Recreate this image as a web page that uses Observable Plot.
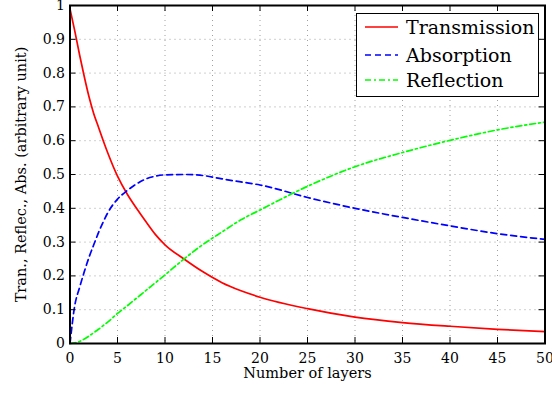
<!DOCTYPE html>
<html><head><meta charset="utf-8">
<script src="https://cdn.jsdelivr.net/npm/d3@7"></script>
<script src="https://cdn.jsdelivr.net/npm/@observablehq/plot@0.6"></script>
<style>
body{margin:0;background:#fff;}
#wrap{position:relative;width:552px;height:394px;}
#legend{position:absolute;left:356px;top:13px;width:181px;height:82px;border:1px solid #000;background:#fff;font-family:"DejaVu Serif";font-size:19px;color:#000;}
.item{position:absolute;left:0;height:24px;display:flex;align-items:center;white-space:nowrap;}
.item svg{margin-left:8px;margin-right:8px;}
</style></head><body><div id="wrap"></div>
<script>
const layers       = [0,    0.5,   1,     1.5,   2,     2.5,   3,     3.5,   4,     5,     6,     7,     8,     9,     10,    12,    14,    16,    18,    20,    25,    30,    35,    40,    45,    50];
const transmission = [0.99, 0.925, 0.855, 0.79,  0.73,  0.68,  0.64,  0.6,   0.562, 0.495, 0.443, 0.4,   0.36,  0.322, 0.292, 0.25,  0.212, 0.18,  0.156, 0.137, 0.103, 0.078, 0.062, 0.051, 0.042, 0.035];
const absorption   = [0,    0.112, 0.165, 0.212, 0.255, 0.292, 0.328, 0.36,  0.388, 0.427, 0.452, 0.472, 0.487, 0.495, 0.499, 0.5,   0.497, 0.487, 0.478, 0.469, 0.432, 0.40,  0.373, 0.348, 0.325, 0.308];
const reflection   = [0,    0.002, 0.006, 0.013, 0.022, 0.032, 0.042, 0.053, 0.064, 0.089, 0.111, 0.134, 0.157, 0.18,  0.203, 0.25,  0.293, 0.33,  0.366, 0.395, 0.465, 0.523, 0.565, 0.601, 0.632, 0.655];

const xTicks = [0, 5, 10, 15, 20, 25, 30, 35, 40, 45, 50];
const yTicks = [0, 0.1, 0.2, 0.3, 0.4, 0.5, 0.6, 0.7, 0.8, 0.9, 1];
const seriesNames  = ["Transmission", "Absorption", "Reflection"];
const seriesColors = ["#ff0000", "#0000ff", "#00ff00"];
const seriesDash   = ["none", "6,4", "6,3,2,3"];
const xLabel = "Number of layers";
const yLabel = "Tran., Reflec., Abs. (arbitrary unit)";

const seriesValues = [transmission, absorption, reflection];
const rows = seriesValues.map(vals => layers.map((x, i) => ({layer: x, value: vals[i]})));

const W = 552, H = 394, mL = 69.5, mR = 7.5, mT = 5, mB = 51;
const innerW = W - mL - mR, innerH = H - mT - mB;
const tickLen = 6;

const chart = Plot.plot({
  width: W, height: H,
  marginLeft: mL, marginRight: mR, marginTop: mT, marginBottom: mB,
  style: {fontFamily: "DejaVu Serif", fontSize: "14px", color: "#000", background: "#fff", overflow: "visible"},
  x: {domain: [0, 50]},
  y: {domain: [0, 1]},
  marks: [
    Plot.gridX(xTicks, {stroke: "#a0a0a0", strokeOpacity: 1, strokeDasharray: "1,4"}),
    Plot.gridY(yTicks, {stroke: "#a0a0a0", strokeOpacity: 1, strokeDasharray: "1,4"}),
    ...rows.map((r, k) => Plot.line(r, {x: "layer", y: "value", stroke: seriesColors[k], strokeWidth: 1.7, strokeDasharray: seriesDash[k], curve: "monotone-x"})),
    Plot.tickX(xTicks, {x: d => d, insetTop: innerH - tickLen, stroke: "#000", strokeWidth: 1}),
    Plot.tickX(xTicks, {x: d => d, insetBottom: innerH - tickLen, stroke: "#000", strokeWidth: 1}),
    Plot.tickY(yTicks, {y: d => d, insetRight: innerW - tickLen, stroke: "#000", strokeWidth: 1}),
    Plot.tickY(yTicks, {y: d => d, insetLeft: innerW - tickLen, stroke: "#000", strokeWidth: 1}),
    Plot.frame({stroke: "#000", strokeWidth: 2}),
    Plot.axisX(xTicks, {tickSize: 0, tickPadding: 10, label: null, fontSize: 14, tickFormat: d => String(d)}),
    Plot.axisY(yTicks, {tickSize: 0, tickPadding: 5, label: null, fontSize: 14, tickFormat: d => String(d)}),
    Plot.text([xLabel], {text: d => d, frameAnchor: "bottom", textAnchor: "middle", lineAnchor: "middle", dy: 30, fontSize: 14.5}),
    Plot.text([yLabel], {text: d => d, frameAnchor: "left", textAnchor: "middle", lineAnchor: "middle", dx: -49, rotate: -90, fontSize: 14.5})
  ]
});

const wrap = document.getElementById("wrap");
wrap.appendChild(chart);

const legend = document.createElement("div");
legend.id = "legend";
const centers = [13, 41, 66];
seriesNames.forEach((name, k) => {
  const item = document.createElement("div");
  item.className = "item";
  item.style.top = (centers[k] - 12) + "px";
  const dash = seriesDash[k] === "none" ? "" : `stroke-dasharray="${seriesDash[k]}"`;
  item.innerHTML = `<svg width="33" height="10"><line x1="0" y1="5" x2="33" y2="5" stroke="${seriesColors[k]}" stroke-width="1.7" ${dash}/></svg><span>${name}</span>`;
  legend.appendChild(item);
});
wrap.appendChild(legend);
</script>
</body></html>
